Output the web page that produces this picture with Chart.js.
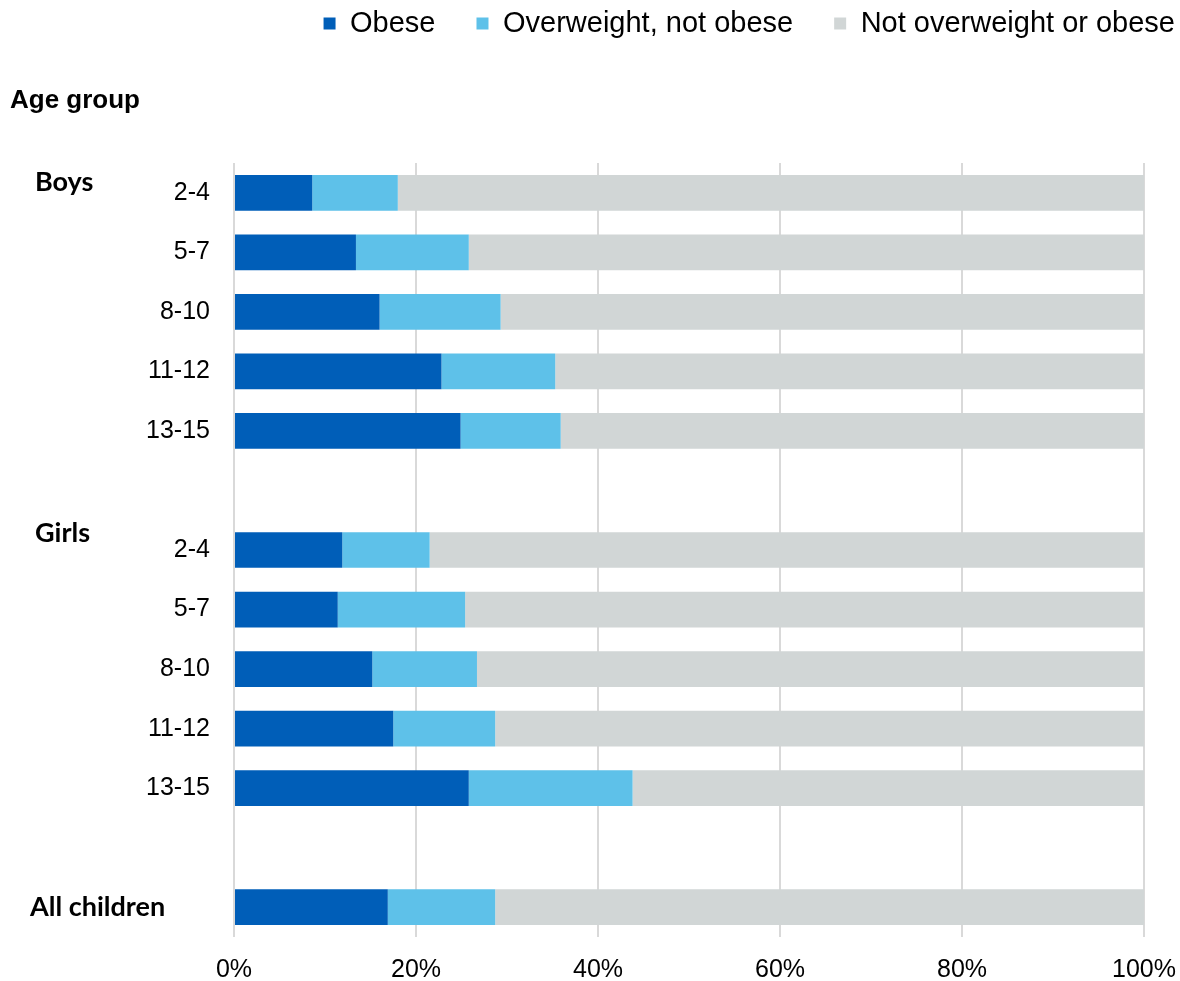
<!DOCTYPE html>
<html>
<head>
<meta charset="utf-8">
<script src="https://cdn.jsdelivr.net/npm/chart.js@4.4.0/dist/chart.umd.min.js"></script>
<style>
  html, body { margin: 0; padding: 0; background: #fff; }
  #wrap { width: 1180px; height: 981px; }
</style>
</head>
<body>
<div id="wrap"><canvas id="chart"></canvas></div>
<script>
// rows: boys 2-15, spacer, girls 2-15, spacer, all children
const ageLabels = ['2-4', '5-7', '8-10', '11-12', '13-15', '', '2-4', '5-7', '8-10', '11-12', '13-15', '', ''];
const obese = [8.6, 13.4, 16.0, 22.8, 24.9, null, 11.9, 11.4, 15.2, 17.5, 25.8, null, 16.9];
const overweight = [9.4, 12.4, 13.3, 12.5, 11.0, null, 9.6, 14.0, 11.5, 11.2, 18.0, null, 11.8];
const notOverweight = [82.0, 74.2, 70.7, 64.7, 64.1, null, 78.5, 74.6, 73.3, 71.3, 56.2, null, 71.3];
const xTicks = [0, 20, 40, 60, 80, 100];

// group headings placed against the first row of each block
const groups = [
  { text: 'Boys', row: 0, dy: -10, x: 35 },
  { text: 'Girls', row: 6, dy: -17, x: 35 },
  { text: 'All children', row: 12, dy: 0, x: 30 }
];

const groupLabels = {
  id: 'groupLabels',
  afterDraw(chart) {
    const ctx = chart.ctx;
    const y = chart.scales.y;
    ctx.save();
    ctx.fillStyle = '#000';
    ctx.textBaseline = 'middle';
    ctx.textAlign = 'left';
    ctx.font = 'bold 26px "Liberation Sans", Arial, sans-serif';
    ctx.fillText('Age group', 10, 101);
    ctx.font = 'bold 27px Lato, "Open Sans", sans-serif';
    groups.forEach(g => {
      ctx.fillText(g.text, g.x, y.getPixelForValue(g.row) + g.dy);
    });
    ctx.restore();
  }
};

// push the plot down below the legend and let the legend run to the right edge
const legendGap = {
  id: 'legendGap',
  beforeInit(chart) {
    const fit = chart.legend.fit;
    chart.legend.fit = function () {
      fit.bind(chart.legend)();
      this.height = 195;
    };
  },
  afterLayout(chart) {
    chart.legend.right = chart.width - 5 + chart.legend.options.labels.padding;
  }
};

new Chart(document.getElementById('chart'), {
  type: 'bar',
  data: {
    labels: ageLabels,
    datasets: [
      { label: 'Obese', data: obese, backgroundColor: '#005EB8' },
      { label: 'Overweight, not obese', data: overweight, backgroundColor: '#5EC1E9' },
      { label: 'Not overweight or obese', data: notOverweight, backgroundColor: '#D1D6D6' }
    ]
  },
  options: {
    indexAxis: 'y',
    responsive: true,
    maintainAspectRatio: false,
    animation: false,
    categoryPercentage: 1,
    barPercentage: 0.6,
    layout: { padding: { top: -32, right: 36, bottom: 0, left: 0 } },
    plugins: {
      tooltip: { enabled: false },
      legend: {
        position: 'top',
        align: 'end',
        labels: {
          boxWidth: 12,
          boxHeight: 12,
          padding: 41,
          color: '#000',
          font: { family: '"Liberation Sans", Arial, sans-serif', size: 29 }
        }
      }
    },
    scales: {
      x: {
        stacked: true,
        min: 0,
        max: 100,
        afterBuildTicks(scale) {
          scale.ticks = xTicks.map(v => ({ value: v }));
        },
        afterFit(scale) {
          scale.height = 44;
          scale.paddingLeft = 0;
          scale.paddingRight = 0;
        },
        grid: { color: '#D9D9D9', lineWidth: 2, drawTicks: false },
        border: { display: false },
        ticks: {
          padding: 18,
          color: '#000',
          font: { family: '"Liberation Sans", Arial, sans-serif', size: 25 },
          callback: v => v + '%'
        }
      },
      y: {
        stacked: true,
        afterFit(scale) { scale.width = 234; },
        grid: { display: false, drawTicks: false },
        border: { display: false },
        ticks: {
          padding: 24,
          color: '#000',
          autoSkip: false,
          font: { family: '"Liberation Sans", Arial, sans-serif', size: 25 }
        }
      }
    }
  },
  plugins: [legendGap, groupLabels]
});
</script>
</body>
</html>
